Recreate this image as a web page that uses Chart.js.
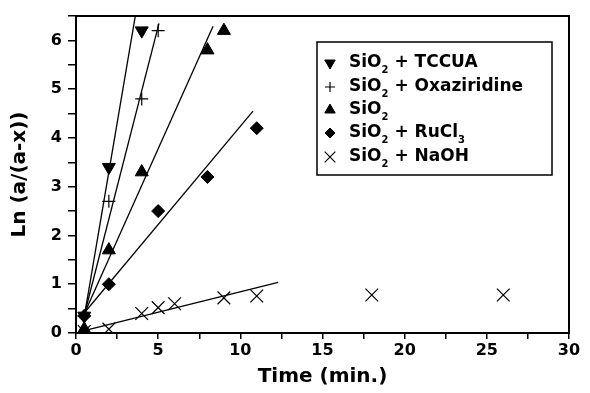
<!DOCTYPE html>
<html>
<head>
<meta charset="utf-8">
<script src="https://cdn.jsdelivr.net/npm/chart.js@4/dist/chart.umd.min.js"></script>
<style>
  html, body { margin: 0; padding: 0; background: #fff; }
  #wrap { width: 590px; height: 393px; }
</style>
</head>
<body>
<div id="wrap"><canvas id="chart" width="590" height="393"></canvas></div>
<script>
// measured points
const tccuaX = [0.5, 2, 4];
const tccuaY = [0.35, 3.4, 6.2];
const oxaX = [0.5, 2, 4, 5];
const oxaY = [0.35, 2.7, 4.8, 6.2];
const sio2X = [0.5, 2, 4, 8, 9];
const sio2Y = [0.08, 1.7, 3.3, 5.8, 6.2];
const rucl3X = [0.5, 2, 5, 8, 11];
const rucl3Y = [0.35, 1.0, 2.5, 3.2, 4.2];
const naohX = [0.5, 2, 4, 5, 6, 9, 11, 18, 26];
const naohY = [0.03, 0.08, 0.4, 0.52, 0.6, 0.72, 0.76, 0.78, 0.78];

// fitted lines (end points)
const tccuaFitX = [0.55, 3.6];
const tccuaFitY = [0.43, 6.48];
const oxaFitX = [0.55, 5.05];
const oxaFitY = [0.43, 6.35];
const sio2FitX = [0.55, 8.34];
const sio2FitY = [0.43, 6.29];
const rucl3FitX = [0.55, 10.77];
const rucl3FitY = [0.43, 4.55];
const naohFitX = [0.5, 12.3];
const naohFitY = [0.05, 1.04];

const xTicks = [0, 5, 10, 15, 20, 25, 30];
const yTicks = [0, 1, 2, 3, 4, 5, 6];

const legendNames = [
  ['SiO', '2', ' + TCCUA'],
  ['SiO', '2', ' + Oxaziridine'],
  ['SiO', '2', ''],
  ['SiO', '2', ' + RuCl', '3'],
  ['SiO', '2', ' + NaOH']
];

function pts(xs, ys) {
  return xs.map((x, i) => ({ x: x, y: ys[i] }));
}

function fitLine(xs, ys) {
  return {
    data: pts(xs, ys),
    showLine: true,
    borderColor: '#000',
    borderWidth: 1.3,
    pointRadius: 0,
    fill: false,
    isFit: true
  };
}

function marker(xs, ys, style, r, rot) {
  return {
    data: pts(xs, ys),
    showLine: false,
    pointStyle: style,
    pointRadius: r,
    pointRotation: rot || 0,
    backgroundColor: '#000',
    borderColor: '#000',
    borderWidth: style === 'cross' || style === 'crossRot' ? 1.2 : 1
  };
}

const frame = {
  id: 'frame',
  afterDraw(chart) {
    const { ctx, chartArea: a } = chart;
    ctx.save();
    ctx.strokeStyle = '#000';
    ctx.lineWidth = 2;
    ctx.strokeRect(a.left, a.top, a.right - a.left, a.bottom - a.top);
    ctx.restore();
  }
};

const boxLegend = {
  id: 'boxLegend',
  afterDraw(chart) {
    const ctx = chart.ctx;
    const left = 317, top = 42, w = 235, h = 133;
    ctx.save();
    ctx.strokeStyle = '#000';
    ctx.lineWidth = 1.5;
    ctx.strokeRect(left, top, w, h);
    const rowY = [63, 87, 110, 133, 157];
    const markerSets = chart.data.datasets.filter(d => !d.isFit);
    markerSets.forEach((ds, i) => {
      const y = rowY[i];
      ctx.fillStyle = '#000';
      ctx.strokeStyle = '#000';
      ctx.lineWidth = ds.borderWidth;
      Chart.helpers.drawPoint(ctx, {
        pointStyle: ds.pointStyle,
        rotation: ds.pointRotation,
        radius: ds.pointRadius - 1.5,
        borderWidth: ds.borderWidth
      }, 330, y);
      let x = 349;
      const parts = legendNames[i];
      ctx.textBaseline = 'middle';
      parts.forEach((p, k) => {
        const sub = k % 2 === 1;
        ctx.font = sub ? 'bold 10px "DejaVu Sans", sans-serif'
                       : 'bold 17px "DejaVu Sans", sans-serif';
        ctx.fillText(p, x, sub ? y + 7 : y);
        x += ctx.measureText(p).width;
      });
    });
    ctx.restore();
  }
};

const tickFont = { family: '"DejaVu Sans", sans-serif', size: 16, weight: 'bold' };
const titleFont = { family: '"DejaVu Sans", sans-serif', size: 20, weight: 'bold' };

new Chart(document.getElementById('chart'), {
  type: 'scatter',
  data: {
    datasets: [
      marker(tccuaX, tccuaY, 'triangle', 7.5, 180),
      marker(oxaX, oxaY, 'cross', 6.5),
      marker(sio2X, sio2Y, 'triangle', 7.5),
      marker(rucl3X, rucl3Y, 'rectRot', 6.5),
      marker(naohX, naohY, 'crossRot', 9),
      fitLine(tccuaFitX, tccuaFitY),
      fitLine(oxaFitX, oxaFitY),
      fitLine(sio2FitX, sio2FitY),
      fitLine(rucl3FitX, rucl3FitY),
      fitLine(naohFitX, naohFitY)
    ]
  },
  options: {
    responsive: false,
    animation: false,
    layout: { padding: { left: 0, right: 21, top: 16, bottom: 4 } },
    plugins: {
      legend: { display: false },
      tooltip: { enabled: false }
    },
    scales: {
      x: {
        type: 'linear',
        min: 0,
        max: 30,
        afterFit(s) { s.height = 56; },
        afterBuildTicks(s) {
          const t = [];
          for (let v = 0; v <= 30; v += 2.5) t.push({ value: v });
          s.ticks = t;
        },
        ticks: {
          color: '#000',
          font: tickFont,
          padding: 2,
          maxRotation: 0,
          callback: v => xTicks.includes(v) ? String(v) : ''
        },
        grid: { drawOnChartArea: false, drawTicks: true, tickLength: 6, color: '#000', lineWidth: 1.5 },
        border: { display: true, color: '#000', width: 2 },
        title: { display: true, text: 'Time (min.)', color: '#000', font: titleFont, padding: { top: 2, bottom: 0 } }
      },
      y: {
        type: 'linear',
        min: 0,
        max: 6.5,
        afterFit(s) { s.width = 76; },
        afterBuildTicks(s) {
          const t = [];
          for (let v = 0; v <= 6.5; v += 0.5) t.push({ value: v });
          s.ticks = t;
        },
        ticks: {
          color: '#000',
          font: tickFont,
          padding: 6,
          callback: v => yTicks.includes(v) ? String(v) : ''
        },
        grid: { drawOnChartArea: false, drawTicks: true, tickLength: 8, color: '#000', lineWidth: 1.5 },
        border: { display: true, color: '#000', width: 2 },
        title: { display: true, text: 'Ln (a/(a-x))', color: '#000', font: titleFont, padding: { top: 8, bottom: 2 } }
      }
    }
  },
  plugins: [frame, boxLegend]
});
</script>
</body>
</html>
